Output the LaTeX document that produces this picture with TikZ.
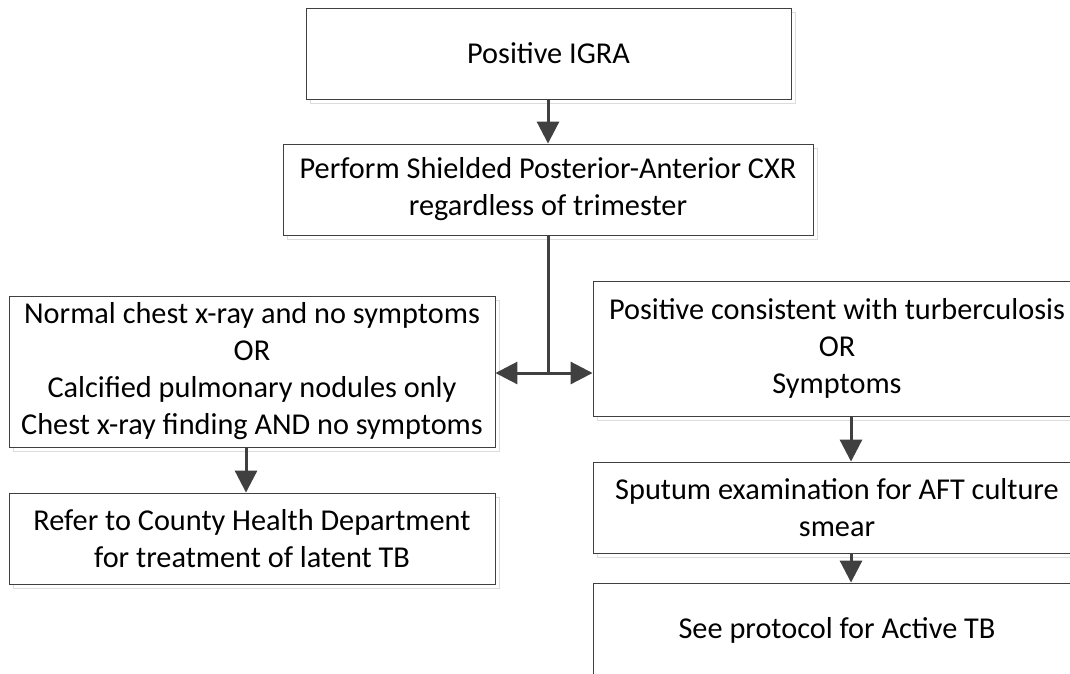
\documentclass[tikz,border=0pt]{standalone}
\usepackage{fontspec}
\setmainfont{Carlito}
\usetikzlibrary{arrows.meta,shadows}
\definecolor{edge}{HTML}{404040}
\definecolor{shade}{HTML}{DCDCDC}
\tikzset{
  flowbox/.style={draw=edge, line width=0.9pt, fill=white, inner sep=0pt,
    align=center, font=\fontsize{30.3}{37}\selectfont,
    general shadow={shadow xshift=4pt, shadow yshift=-4pt, draw=shade, fill=none, line width=1pt}},
  conn/.style={draw=edge, line width=3pt, -{Triangle[width=22pt,length=22pt]}},
  dconn/.style={draw=edge, line width=3pt, {Triangle[width=22pt,length=22pt]}-{Triangle[width=22pt,length=22pt]}}
}
\begin{document}
\begin{tikzpicture}[x=1pt,y=-1pt]
\useasboundingbox (0,0) rectangle (1070,673);
\fill[white] (0,0) rectangle (1070,673);
\node[flowbox, minimum width=485pt, minimum height=91pt] (igra) at (548.5,53.5) {Positive IGRA};
\node[flowbox, minimum width=530pt, minimum height=91pt] (cxr) at (548,189.5) {Perform Shielded Posterior-Anterior CXR\\regardless of trimester};
\node[flowbox, minimum width=486pt, minimum height=151pt] (normal) at (252,371.5) {Normal chest x-ray and no symptoms\\OR\\Calcified pulmonary nodules only\\Chest x-ray finding AND no symptoms};
\node[flowbox, minimum width=486pt, minimum height=91pt] (refer) at (252,538.5) {Refer to County Health Department\\for treatment of latent TB};
\node[flowbox, minimum width=488pt, minimum height=135pt] (pos) at (837,348.5) {Positive consistent with turberculosis\\OR\\Symptoms};
\node[flowbox, minimum width=488pt, minimum height=91pt] (sputum) at (837,507.5) {Sputum examination for AFT culture\\smear};
\node[flowbox, minimum width=488pt, minimum height=94pt] (active) at (837,630) {See protocol for Active TB};
\coordinate (split) at (548,373);
\draw[conn] (igra.south -| 548,0) -- (cxr.north -| 548,0);
\draw[draw=edge, line width=3pt] (cxr.south -| split) -- (split);
\draw[dconn] (normal.east |- split) -- (pos.west |- split);
\draw[conn] (normal.south -| 246,0) -- (refer.north -| 246,0);
\draw[conn] (pos.south -| 851,0) -- (sputum.north -| 851,0);
\draw[conn] (sputum.south -| 851,0) -- (active.north -| 851,0);
\end{tikzpicture}
\end{document}
